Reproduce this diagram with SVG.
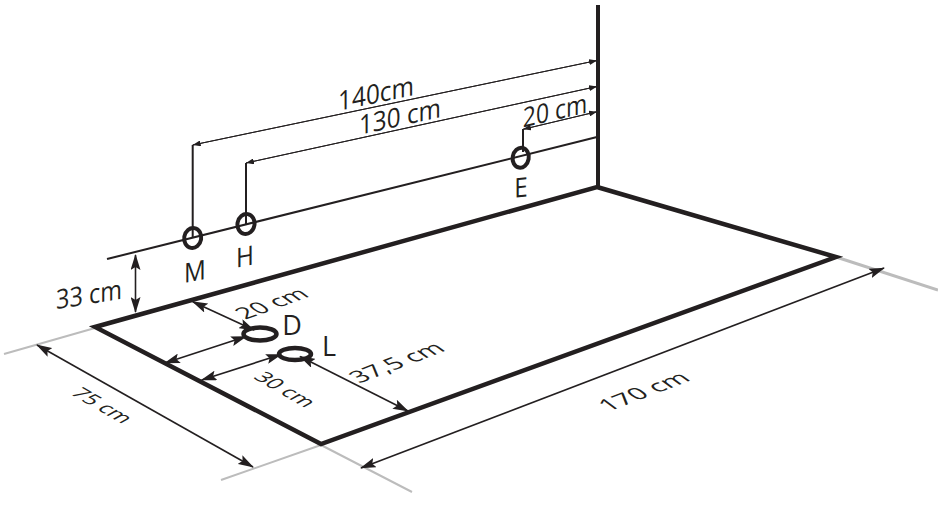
<svg xmlns="http://www.w3.org/2000/svg" width="938" height="505" viewBox="0 0 938 505">
<style>
text{font-family:"Open Sans","Noto Sans","Liberation Sans",sans-serif;font-size:24px;fill:#231f20;text-anchor:middle}
.big{font-size:27px}
.floor{fill:none;stroke:#231f20;stroke-width:4.500;stroke-linejoin:miter}
.gray{stroke:#bcbcbc;stroke-width:2;fill:none}
.dim{stroke:#231f20;stroke-width:1.600;fill:none;marker-start:url(#a);marker-end:url(#a)}
.thin{stroke:#231f20;stroke-width:1;fill:none;marker-end:url(#s)}
.line{stroke:#231f20;stroke-width:2;fill:none}
.ring{fill:none;stroke:#231f20;stroke-width:4}
</style>
<defs>
<marker id="a" viewBox="0 0 16 10" refX="15" refY="5" markerWidth="16" markerHeight="10" markerUnits="userSpaceOnUse" orient="auto-start-reverse"><path d="M0 0L16 5L0 10L3 5Z" fill="#231f20"/></marker>
<marker id="s" viewBox="0 0 8 6" refX="8" refY="3" markerWidth="8" markerHeight="6" markerUnits="userSpaceOnUse" orient="auto"><path d="M0 0L8 3L0 6Z" fill="#231f20"/></marker>
</defs>
<g id="connectors">
<path class="gray" d="M95 328L4 354M321 445L221 480M321 445L412 492"/>
<path class="gray" style="stroke-width:3" d="M836 257L938 290"/>
<path class="line" d="M107 259L597 137"/>
<path class="line" d="M192.700 238V145M246 224V163M523 152V129"/>
<path class="thin" d="M192.700 145L597 60.500"/>
<path class="thin" d="M597 60.500L192.700 145"/>
<path class="thin" d="M246 163L597 86.500"/>
<path class="thin" d="M597 86.500L246 163"/>
<path class="thin" d="M523 129.300L597 111.700"/>
<path class="thin" d="M597 111.700L523 129.300"/>
<path class="dim" d="M135.500 255V312"/>
<path class="dim" d="M37 345L253 467"/>
<path class="dim" d="M361 468L884 268"/>
<path class="dim" d="M192.700 301.700L254 330"/>
<path class="dim" d="M165 363L246 336.500"/>
<path class="dim" d="M201.700 380L281 354.500"/>
<path class="dim" d="M300 356.500L408 411"/>
</g>
<g id="wall"><path d="M598 5V187" fill="none" stroke="#231f20" stroke-width="4"/></g>
<g id="floor"><path class="floor" d="M597 187L836 257L321 444L95 327Z"/></g>
<g id="M"><ellipse class="ring" cx="192.700" cy="238" rx="8.500" ry="10" transform="rotate(10 192.700 238)"/><text class="big" transform="matrix(.9 -.17 0 1 195 281)">M</text></g>
<g id="H"><ellipse class="ring" cx="246" cy="224" rx="8.500" ry="10" transform="rotate(10 246 224)"/><text class="big" transform="matrix(.9 -.17 0 1 245 266)">H</text></g>
<g id="E"><ellipse class="ring" cx="520.700" cy="157.700" rx="8" ry="10" transform="rotate(10 520.700 157.700)"/><text class="big" transform="matrix(.9 -.1 0 1 521 197)">E</text></g>
<g id="D"><ellipse class="ring" cx="260" cy="334" rx="16.500" ry="6.500" style="stroke-width:4.500"/><text class="big" x="292" y="335">D</text></g>
<g id="L"><ellipse class="ring" cx="295" cy="354" rx="16" ry="6" style="stroke-width:4.500"/><text class="big" x="329" y="356">L</text></g>
<g id="labels">
<text class="big" transform="matrix(.9 -.19 0 1 376 103)">140cm</text>
<text class="big" transform="matrix(.9 -.2 0 1 400 126)">130 cm</text>
<text class="big" transform="matrix(.85 -.2 0 1 555 120)">20 cm</text>
<text class="big" transform="matrix(.87 -.14 0 1 89 304)">33 cm</text>
<text transform="matrix(.97 -.35 .75 .55 278 308)">20 cm</text>
<text transform="matrix(1 -.38 .75 .55 403 367)">37,5 cm</text>
<text transform="matrix(.79 .45 -.75 .42 279 393)">30 cm</text>
<text transform="matrix(.79 .45 -.75 .42 96 409)">75 cm</text>
<text transform="matrix(1.03 -.39 .75 .55 650 396)">170 cm</text>
</g>
</svg>
